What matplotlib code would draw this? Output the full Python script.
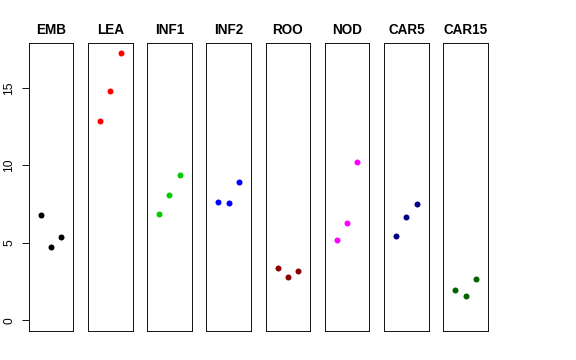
import matplotlib
matplotlib.use("Agg")
import matplotlib.pyplot as plt

groups = ["EMB", "LEA", "INF1", "INF2", "ROO", "NOD", "CAR5", "CAR15"]
colors = ["#000000", "#FF0000", "#00CD00", "#0000FF", "#8B0000", "#FF00FF", "#000080", "#006400"]
emb = [6.79, 4.72, 5.35]
lea = [12.86, 14.80, 17.22]
inf1 = [6.87, 8.10, 9.37]
inf2 = [7.65, 7.56, 8.90]
roo = [3.40, 2.78, 3.15]
nod = [5.17, 6.27, 10.19]
car5 = [5.41, 6.64, 7.48]
car15 = [1.94, 1.55, 2.67]
values = [emb, lea, inf1, inf2, roo, nod, car5, car15]
reps = [1, 2, 3]
yticks = [0, 5, 10, 15]

plt.rcParams['font.family'] = ['Liberation Sans', 'DejaVu Sans']
W, H = 576, 360
fig = plt.figure(figsize=(W / 72, H / 72), dpi=72)

ymin, ymax = 0, 17.2
ypad = 0.04 * (ymax - ymin)
left0, period, pw = 28.7, 59.23, 44.6
top, bottom = 43, 331

for i, (g, c, v) in enumerate(zip(groups, colors, values)):
    x0 = left0 + i * period
    ax = fig.add_axes([x0 / W, 1 - bottom / H, pw / W, (bottom - top) / H])
    ax.plot(reps, v, 'o', color=c, markersize=6, markeredgewidth=0)
    ax.set_xlim(0 - 0.16, 4 + 0.16)
    ax.set_ylim(ymin - ypad, ymax + ypad)
    ax.set_xticks([])
    for s in ax.spines.values():
        s.set_linewidth(0.9)
        s.set_color('black')
    ax.set_title(g, fontsize=13.5, fontweight='bold', pad=8.5)
    if i == 0:
        ax.set_yticks(yticks)
        ax.set_yticklabels([str(t) for t in yticks], rotation=90, va='center', fontsize=12)
        ax.tick_params(axis='y', length=7, width=0.9, pad=6.5)
    else:
        ax.set_yticks([])

fig.savefig("out.png", dpi=72)
